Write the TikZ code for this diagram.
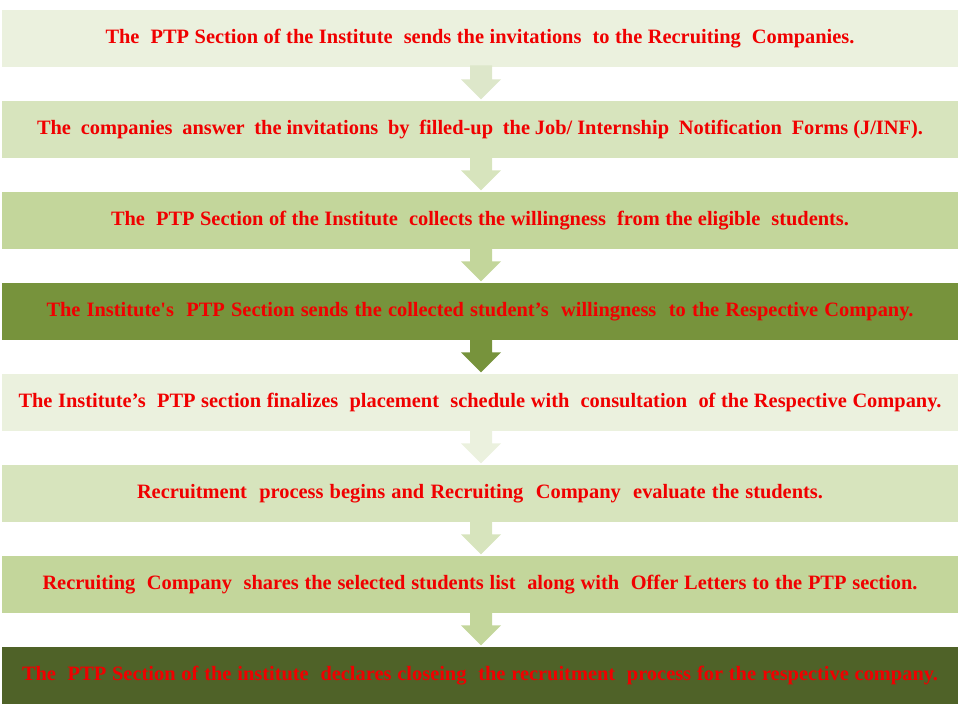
\documentclass[tikz,border=0pt]{standalone}
\usepackage{fontspec}
\setmainfont{Liberation Serif}
\usetikzlibrary{calc}
\definecolor{g1}{HTML}{EBF1DE}
\definecolor{g2}{HTML}{D7E4BD}
\definecolor{g3}{HTML}{C3D69B}
\definecolor{g4}{HTML}{77933C}
\definecolor{g8}{HTML}{4F6228}
\definecolor{a1}{HTML}{DDE7CA}
\definecolor{txt}{HTML}{F00000}
\tikzset{
  bar/.style={minimum width=956pt, minimum height=57pt, inner sep=0pt, draw=none,
    font=\fontsize{20.4}{22}\selectfont\bfseries, text=txt, anchor=north},
}
\newcommand{\wline}[2]{\makebox[#1pt][s]{#2}}
\newcommand{\downarr}[3]{%
  \fill[#3] ($(#1.south)+(-10,-2)$) -- ($(#1.south)+(-10,12)$) -- ($(#1.south)+(-19,12)$)
    -- ($(#1.south)+(1,32)$) -- ($(#1.south)+(21,12)$) -- ($(#1.south)+(12,12)$)
    -- ($(#1.south)+(12,-2)$) -- cycle;}
\begin{document}
\begin{tikzpicture}[x=1pt,y=-1pt]
\useasboundingbox (0,0) rectangle (960,720);
\node[bar, fill=g1] (b1) at (480,10) {\wline{749}{The\ \ PTP Section of the Institute\ \ sends the invitations\ \ to the Recruiting\ \ Companies.}};
\node[bar, fill=g2] (b2) at (480,101) {\wline{886}{The\ \ companies\ \ answer\ \ the invitations\ \ by\ \ filled-up\ \ the Job/ Internship\ \ Notification\ \ Forms (J/INF).}};
\node[bar, fill=g3] (b3) at (480,192) {\wline{738}{The\ \ PTP Section of the Institute\ \ collects the willingness\ \ from the eligible\ \ students.}};
\node[bar, fill=g4] (b4) at (480,283) {\wline{867}{The Institute\textquotesingle s\ \ PTP Section sends the collected student’s\ \ willingness\ \ to the Respective Company.}};
\node[bar, fill=g1] (b5) at (480,374) {\wline{923}{The Institute’s\ \ PTP section finalizes\ \ placement\ \ schedule with\ \ consultation\ \ of the Respective Company.}};
\node[bar, fill=g2] (b6) at (480,465) {\wline{686}{Recruitment\ \ process begins and Recruiting\ \ Company\ \ evaluate the students.}};
\node[bar, fill=g3] (b7) at (480,556) {\wline{875}{Recruiting\ \ Company\ \ shares the selected students list\ \ along with\ \ Offer Letters to the PTP section.}};
\node[bar, fill=g8] (b8) at (480,647) {\wline{916}{The\ \ PTP Section of the institute\ \ declares closeing\ \ the recruitment\ \ process for the respective company.}};
\downarr{b1}{b2}{a1}
\downarr{b2}{b3}{g2}
\downarr{b3}{b4}{g3}
\downarr{b4}{b5}{g4}
\downarr{b5}{b6}{g1}
\downarr{b6}{b7}{g2}
\downarr{b7}{b8}{g3}
\end{tikzpicture}
\end{document}
